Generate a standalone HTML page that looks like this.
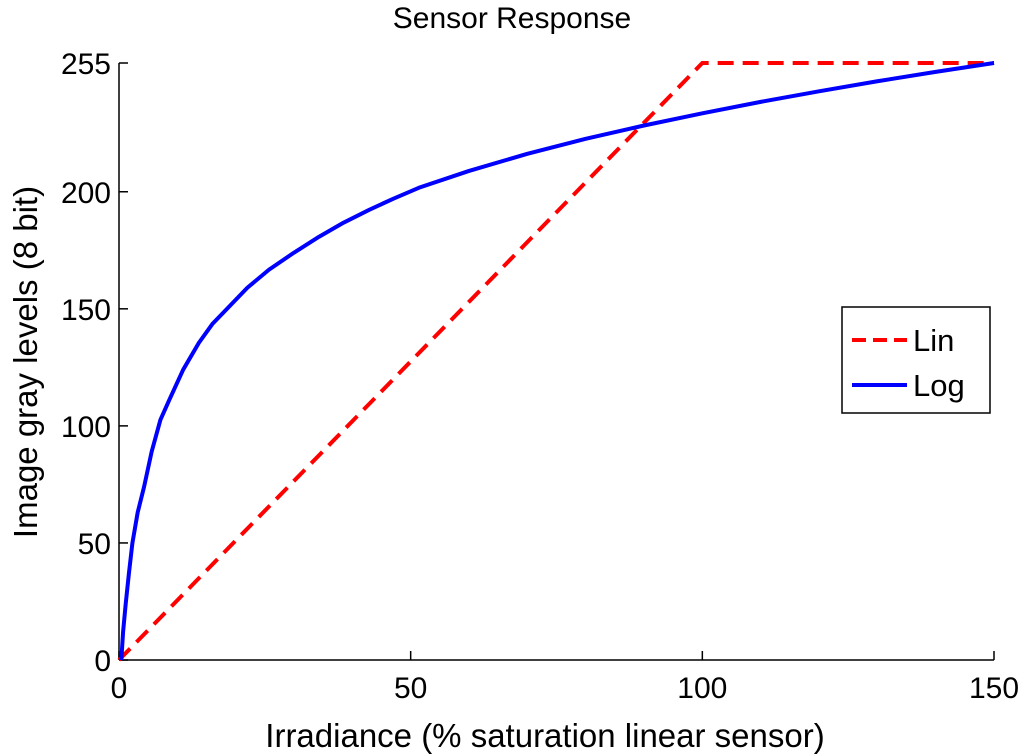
<!DOCTYPE html>
<html><head><meta charset="utf-8"><style>
body{margin:0;background:#fff;}
svg{display:block;font-family:"Liberation Sans",sans-serif;}
</style></head><body>
<svg id="chart" width="1024" height="756" viewBox="0 0 1024 756">
<text x="512" y="28" text-anchor="middle" font-size="30">Sensor Response</text>
<g id="axes"></g>
<g id="series"></g>
<g>
<rect x="842" y="307" width="148" height="106" fill="#fff" stroke="#000" stroke-width="1.5"/>
<line x1="852" y1="340" x2="907" y2="340" stroke="#f00" stroke-width="4" stroke-dasharray="14,7"/>
<text x="913" y="351" font-size="31">Lin</text>
<line x1="852" y1="385" x2="907" y2="385" stroke="#00f" stroke-width="4"/>
<text x="913" y="396" font-size="31">Log</text>
</g>
<text x="545" y="747" text-anchor="middle" font-size="33">Irradiance (% saturation linear sensor)</text>
<text transform="translate(37,362) rotate(-90)" text-anchor="middle" font-size="33">Image gray levels (8 bit)</text>
</svg>
<script>
const xTicks=[0,50,100,150];
const yTicks=[0,50,100,150,200,255];
const linX=[0,100,150];
const linY=[0,255,255];
const logX=[0.4,0.7,1.15,1.7,2.3,3.2,4.3,5.6,7.1,8.6,11,13.7,16,18.9,22,25.7,30,34.3,38.5,42.9,47,51.4,60,70,80,90,100,110,120,130,140,150];
const logY=[0,12,24,37,50,63,74,89,102.6,111,124,135.5,143.5,151,159,166.7,174,180.8,186.8,192.3,197,201.7,208.9,216.2,222.6,228.3,233.5,238.4,242.9,247.2,251.2,255];
const L=119,R=994,T=63,B=660;
const sx=v=>L+(v-0)/(150)*(R-L);
const sy=v=>B-(v/255)*(B-T);
const NS="http://www.w3.org/2000/svg";
const ax=document.getElementById('axes');
function mk(tag,attrs,parent){const e=document.createElementNS(NS,tag);for(const k in attrs)e.setAttribute(k,attrs[k]);parent.appendChild(e);return e;}
let l=mk('line',{x1:L,y1:B,x2:R,y2:B,stroke:'#000','stroke-width':1.5},ax);


l=mk('line',{x1:L,y1:B,x2:L,y2:T,stroke:'#000','stroke-width':1.5},ax);


xTicks.forEach(v=>{
 mk('line',{x1:sx(v),y1:B,x2:sx(v),y2:B-9,stroke:'#000','stroke-width':1.5},ax);
 const t=mk('text',{x:sx(v),y:B+38,'text-anchor':'middle','font-size':30},ax);
 t.textContent=v;
 
 
});
yTicks.forEach(v=>{
 mk('line',{x1:L,y1:sy(v),x2:L+9,y2:sy(v),stroke:'#000','stroke-width':1.5},ax);
 const t=mk('text',{x:L-8,y:sy(v)+11,'text-anchor':'end','font-size':30},ax);
 t.textContent=v;
 
 
});
const se=document.getElementById('series');
let p=mk('polyline',{points:linX.map((x,i)=>sx(x)+','+sy(linY[i])).join(' '),fill:'none',stroke:'#f00','stroke-width':4,'stroke-dasharray':'16,9'},se);


p=mk('polyline',{points:logX.map((x,i)=>sx(x)+','+sy(logY[i])).join(' '),fill:'none',stroke:'#00f','stroke-width':4,'stroke-linejoin':'round'},se);


</script>
</body></html>
